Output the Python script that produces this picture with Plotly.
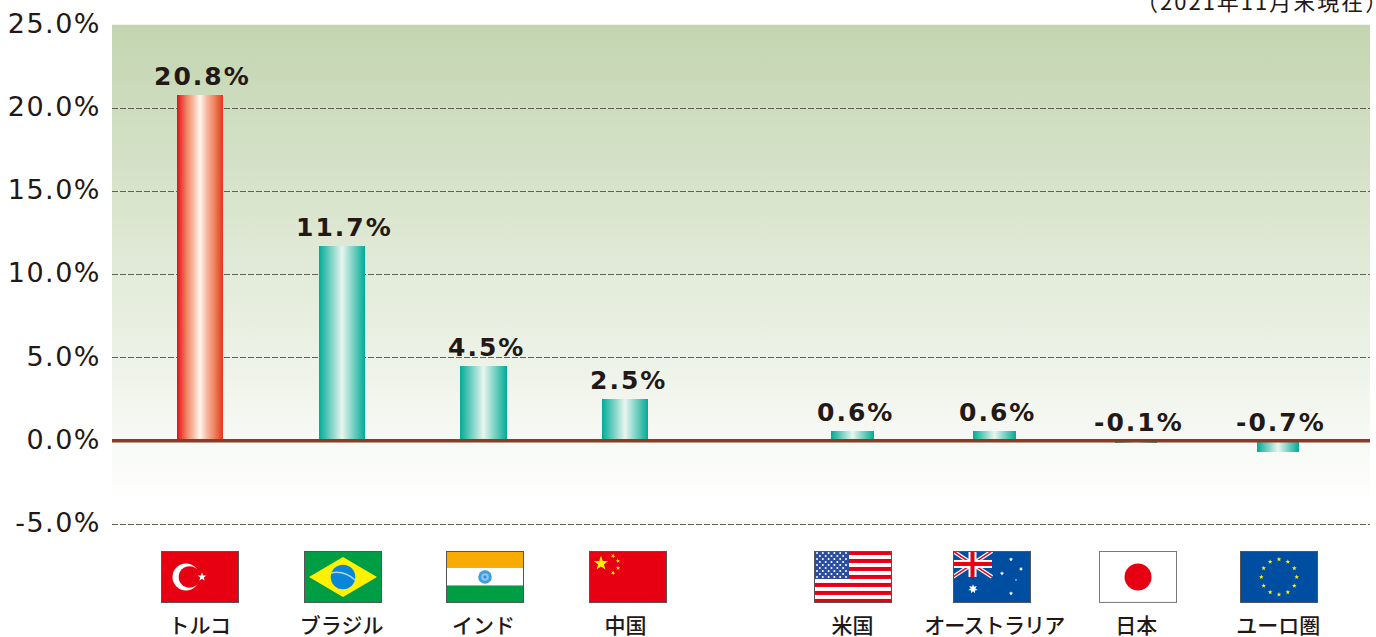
import json
import math
import base64
import plotly.graph_objects as go

# ---------- data ----------
categories = ["トルコ", "ブラジル", "インド", "中国", "米国", "オーストラリア", "日本", "ユーロ圏"]
values = [20.8, 11.7, 4.5, 2.5, 0.6, 0.6, -0.1, -0.7]
y_ticks = [-5, 0, 5, 10, 15, 20, 25]
y_tick_labels = ["-5.0%", "0.0%", "5.0%", "10.0%", "15.0%", "20.0%", "25.0%"]
note = "（2021年11月末現在）"

# ---------- layout / style ----------
W, H = 1376, 637
L, R, T, B = 112, 1370, 24.5, 526
GROUP_GAP = 0.6          # extra slot between the two country groups
slots = [i + (GROUP_GAP if i >= 4 else 0) for i in range(len(categories))]
bar_widths = [0.325, 0.325, 0.325, 0.325, 0.305, 0.305, 0.298, 0.298]
bar_gradients = ["gRed"] + ["gTeal"] * 7
INK = "#231815"
flag_left_px = [161, 304, 446, 589, 814, 953, 1099, 1240]
FLAG_TOP, FLAG_W, FLAG_H = 551, 78, 52


def star(cx, cy, r, n=5, inner=0.4, rot=-90):
    pts = []
    for k in range(2 * n):
        a = math.radians(rot + k * 180 / n)
        q = r if k % 2 == 0 else r * inner
        pts.append(f"{cx + q * math.cos(a):.2f},{cy + q * math.sin(a):.2f}")
    return f'<polygon points="{" ".join(pts)}" fill="FILL"/>'


def s(cx, cy, r, fill, **kw):
    return star(cx, cy, r, **kw).replace("FILL", fill)


def union_jack():
    return (
        '<path d="M0 0L39 26M39 0L0 26" stroke="#fff" stroke-width="4"/>'
        '<path d="M0 0L39 26M39 0L0 26" stroke="#e60012" stroke-width="1.5"/>'
        '<rect x="15.5" y="0" width="8" height="26" fill="#fff"/>'
        '<rect x="0" y="9" width="39" height="8" fill="#fff"/>'
        '<rect x="17.5" y="0" width="4" height="26" fill="#e60012"/>'
        '<rect x="0" y="11" width="39" height="4" fill="#e60012"/>'
    )


def flag_svg(name):
    b = ""
    border = "#555"
    if name == "tr":
        b = ('<rect width="78" height="52" fill="#e60012"/>'
             '<circle cx="25" cy="26" r="13.5" fill="#fff"/>'
             '<circle cx="28.5" cy="26" r="10.8" fill="#e60012"/>'
             + s(41, 26, 4.6, "#fff", rot=-162))
    elif name == "br":
        b = ('<rect width="78" height="52" fill="#009e44"/>'
             '<polygon points="39,6 73,26 39,46 5,26" fill="#fff100"/>'
             '<circle cx="39" cy="26" r="12.3" fill="#0a86d8"/>'
             '<path d="M27 22Q40 19 51 29" stroke="#a9d6ea" stroke-width="1.4" fill="none"/>')
    elif name == "in":
        b = ('<rect width="78" height="52" fill="#fff"/>'
             '<rect width="78" height="17" fill="#f8ab00"/>'
             '<rect y="34.5" width="78" height="17.5" fill="#009e44"/>'
             '<circle cx="39" cy="26" r="6.8" fill="#3f9fdc"/>'
             '<circle cx="39" cy="26" r="3.8" fill="#8cc6ea"/>'
             '<circle cx="39" cy="26" r="1.5" fill="#2c8ad0"/>')
    elif name == "cn":
        b = ('<rect width="78" height="52" fill="#e60012"/>'
             + s(12, 12.5, 7.6, "#fff100") + s(24, 5, 2.3, "#fff100", rot=-60)
             + s(29, 10, 2.3, "#fff100", rot=-30) + s(29, 17, 2.3, "#fff100")
             + s(24, 22, 2.3, "#fff100", rot=-60))
    elif name == "us":
        sh = 52 / 13
        b = '<rect width="78" height="52" fill="#fff"/>'
        for i in range(0, 13, 2):
            b += f'<rect y="{i * sh:.2f}" width="78" height="{sh:.2f}" fill="#e60012"/>'
        b += '<rect width="35" height="28" fill="#2a4f9e"/>'
        for r_ in range(9):
            for c in range(6 if r_ % 2 == 0 else 5):
                x = 3 + c * 5.8 + (0 if r_ % 2 == 0 else 2.9)
                b += f'<circle cx="{x:.2f}" cy="{2 + r_ * 3:.2f}" r="1" fill="#fff"/>'
    elif name == "au":
        b = ('<rect width="78" height="52" fill="#004ea2"/>' + union_jack()
             + s(20, 38, 4.8, "#fff", n=7, inner=0.5)
             + s(58, 8.4, 2.1, "#fff", n=7, inner=0.5) + s(49, 22.5, 2.1, "#fff", n=7, inner=0.5)
             + s(68, 18, 2.1, "#fff", n=7, inner=0.5) + s(58, 42.5, 2.1, "#fff", n=7, inner=0.5)
             + s(63, 29, 1.1, "#fff"))
    elif name == "jp":
        border = "#777"
        b = ('<rect width="78" height="52" fill="#fff"/>'
             '<circle cx="39" cy="26" r="13.5" fill="#e60012"/>')
    elif name == "eu":
        b = '<rect width="78" height="52" fill="#004ea2"/>'
        for k in range(12):
            a = math.radians(30 * k)
            b += s(39 + 17.7 * math.sin(a), 26 - 17.6 * math.cos(a), 2.5, "#fff100")
    svg = (f'<svg xmlns="http://www.w3.org/2000/svg" width="78" height="52" viewBox="0 0 78 52" '
           f'preserveAspectRatio="none">{b}'
           f'<rect x="0.5" y="0.5" width="77" height="51" fill="none" stroke="{border}"/></svg>')
    return "data:image/svg+xml;base64," + base64.b64encode(svg.encode()).decode()


flag_names = ["tr", "br", "in", "cn", "us", "au", "jp", "eu"]

bg_svg = ('<svg xmlns="http://www.w3.org/2000/svg" width="10" height="100" preserveAspectRatio="none">'
          '<defs><linearGradient id="b" x1="0" y1="0" x2="0" y2="1">'
          '<stop offset="0" stop-color="#c3d5b0"/><stop offset="0.96" stop-color="#ffffff"/>'
          '</linearGradient></defs><rect width="10" height="100" fill="url(#b)"/></svg>')
bg_uri = "data:image/svg+xml;base64," + base64.b64encode(bg_svg.encode()).decode()

images = [dict(source=bg_uri, xref="paper", yref="paper", x=0, y=1 + 0.5 / (B - T), sizex=1,
               sizey=1, sizing="stretch", xanchor="left", yanchor="top", layer="below")]
for name, left in zip(flag_names, flag_left_px):
    images.append(dict(source=flag_svg(name), xref="paper", yref="paper",
                       x=(left - L) / (R - L), y=(B - FLAG_TOP) / (B - T),
                       sizex=FLAG_W / (R - L), sizey=FLAG_H / (B - T),
                       sizing="stretch", xanchor="left", yanchor="top", layer="above"))

fig = go.Figure(go.Bar(x=slots, y=values, width=bar_widths, marker=dict(color="#00ab96", line_width=0),
                       hoverinfo="skip"))

annotations = [dict(x=x, y=max(v, 0), xref="x", yref="y", text=f"{v:.1f}%", showarrow=False,
                    yanchor="bottom", yshift=2, xshift=3,
                    font=dict(family="DejaVu Sans", size=25, color=INK, weight=700))
               for x, v in zip(slots, values)]
annotations.append(dict(x=1, y=1, xref="paper", yref="paper", text=note, showarrow=False,
                        xanchor="right", yanchor="bottom", yshift=7, xshift=8,
                        font=dict(family="Noto Sans CJK JP", size=22, color=INK)))

UNIT = 141.9
ORIGIN = 199.7
fig.update_layout(
    width=W, height=H, autosize=False,
    margin=dict(l=L, r=W - R, t=T, b=H - B, pad=0),
    paper_bgcolor="white", plot_bgcolor="rgba(0,0,0,0)",
    showlegend=False, bargap=0,
    images=images, annotations=annotations,
    shapes=[dict(type="line", xref="paper", yref="y", x0=0, x1=1, y0=0, y1=0,
                 line=dict(color="#8a3b28", width=3.5), layer="above")],
    xaxis=dict(range=[(L - ORIGIN) / UNIT, (R - ORIGIN) / UNIT], tickmode="array", tickvals=slots,
               ticktext=categories, showgrid=False, zeroline=False, showline=False, ticks="",
               ticklabelstandoff=85, automargin=False,
               tickfont=dict(family="Noto Sans CJK JP", size=21, color=INK, weight=500)),
    yaxis=dict(range=[-5.12, 25], tickmode="array", tickvals=y_ticks, ticktext=y_tick_labels,
               showgrid=True, gridcolor="#5f5f52", gridwidth=1.2, griddash="5.5px,2.5px",
               zeroline=False, showline=False, ticks="", ticklabelstandoff=10, automargin=False,
               tickfont=dict(family="DejaVu Sans", size=27, color=INK)),
)

post = """
document.body.style.margin = '0';
document.body.style.overflow = 'hidden';
(function () {
  var gd = document.getElementById('{plot_id}');
  var ids = %s;
  var NS = 'http://www.w3.org/2000/svg';
  function grad(svg, id, stops) {
    if (svg.querySelector('#' + id)) return;
    var g = document.createElementNS(NS, 'linearGradient');
    g.setAttribute('id', id);
    stops.forEach(function (s) {
      var st = document.createElementNS(NS, 'stop');
      st.setAttribute('offset', s[0]);
      st.setAttribute('stop-color', s[1]);
      g.appendChild(st);
    });
    svg.querySelector('defs').appendChild(g);
  }
  function apply() {
    var svg = gd.querySelector('.main-svg');
    grad(svg, 'gRed', [[0, '#e60f16'], [0.22, '#f08a68'], [0.34, '#f6b49c'], [0.5, '#fff6f0'],
                       [0.66, '#f6b49c'], [0.82, '#ee8059'], [1, '#e8341f']]);
    grad(svg, 'gTeal', [[0, '#00ab96'], [0.5, '#e9f5ee'], [1, '#00ab96']]);
    gd.querySelectorAll('.bars .point path').forEach(function (p, i) {
      p.style.fill = 'url(#' + ids[i] + ')';
    });
    gd.querySelectorAll('.ytick text').forEach(function (t) {
      t.style.letterSpacing = '1.5px';
      t.setAttribute('dy', '-1.5');
    });
    gd.querySelectorAll('.annotation-text').forEach(function (t) {
      t.style.letterSpacing = '2px';
    });
    gd.querySelectorAll('.xtick text').forEach(function (t) {
      if (t.textContent.length > 5) t.style.letterSpacing = '-0.8px';
    });
  }
  apply();
  gd.on('plotly_afterplot', apply);
  setTimeout(apply, 50);
})();
""" % json.dumps(bar_gradients)

fig.write_html("out.html", post_script=post, config=dict(displayModeBar=False))
